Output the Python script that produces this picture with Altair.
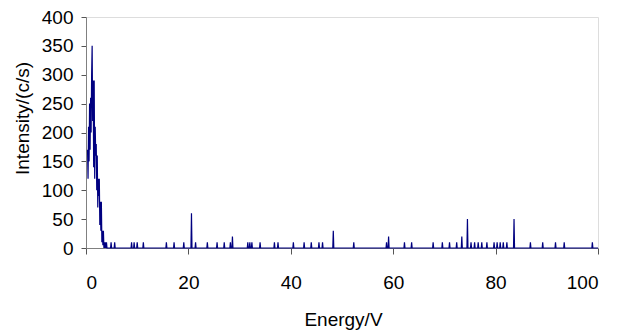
import altair as alt
import pandas as pd

# Dense low-energy region (x step 0.1 starting at 0.3)
dense_start = 0.3
dense_values = [170, 120, 210, 150, 250, 170, 260, 200, 300, 350,
                220, 290, 140, 290, 120, 210, 160, 180, 100, 160,
                70, 120, 90, 120, 40, 80, 30, 80, 10, 30,
                5, 30, 0, 10, 0, 10, 0, 10, 0]

# Isolated spikes (energy, intensity)
spike_x = [4.9, 5.6, 8.9, 9.4, 10.0, 11.2, 15.7, 17.2, 19.1, 20.6, 21.4,
           23.7, 25.6, 27.0, 28.2, 28.6, 31.6, 32.0, 32.4, 34.0, 36.8, 37.5,
           40.5, 42.6, 44.0, 45.5, 46.2, 48.3, 52.3, 58.7, 59.1, 62.2, 63.6,
           67.8, 69.6, 71.0, 72.4, 73.4, 74.5, 75.2, 75.9, 76.6, 77.3, 78.3,
           79.7, 80.3, 80.9, 81.5, 82.2, 83.6, 86.8, 89.2, 91.7, 93.4, 98.9]
spike_y = [10, 10, 10, 10, 10, 10, 10, 10, 10, 60, 10,
           10, 10, 10, 10, 20, 10, 10, 10, 10, 10, 10,
           10, 10, 10, 10, 10, 30, 10, 10, 20, 10, 10,
           10, 10, 10, 10, 20, 50, 10, 10, 10, 10, 10,
           10, 10, 10, 10, 10, 50, 10, 10, 10, 10, 10]

# Build a 0.1-step series from the lists above
n = 1001
vals = [0.0] * n
for i, v in enumerate(dense_values):
    vals[int(round(dense_start * 10)) + i] = v
for sx, sy in zip(spike_x, spike_y):
    vals[int(round(sx * 10))] = sy
energy = [i / 10 for i in range(n)]
start = int(round(dense_start * 10))
df = pd.DataFrame({"Energy": energy[start:], "Intensity": vals[start:]})

FONT = "Liberation Sans"

chart = alt.Chart(df).mark_line(color="#000080", strokeWidth=1.2, interpolate="linear").encode(
    x=alt.X("Energy:Q",
            scale=alt.Scale(domain=[0, 100], nice=False, zero=True),
            axis=alt.Axis(title="Energy/V", values=[0, 20, 40, 60, 80, 100],
                          grid=False, tickSize=6, tickColor="#555555",
                          domainColor="#808080", labelFontSize=19,
                          labelFont=FONT, labelColor="black", labelPadding=19,
                          titleFont=FONT, titleFontSize=19, titleFontWeight="normal",
                          titleColor="black", titleX=257, titleY=77,
                          titleBaseline="alphabetic", titleAlign="center")),
    y=alt.Y("Intensity:Q",
            scale=alt.Scale(domain=[0, 400], nice=False),
            axis=alt.Axis(title="Intensity/(c/s)", values=list(range(0, 401, 50)),
                          grid=False, tickSize=5, tickColor="#555555",
                          domainColor="#808080", labelFontSize=19,
                          labelFont=FONT, labelColor="black", labelPadding=8,
                          titleFont=FONT, titleFontSize=19, titleFontWeight="normal",
                          titleColor="black", titleX=-64, titleY=101,
                          titleAngle=-90, titleBaseline="middle", titleAlign="center")),
).properties(
    width=512, height=231,
    autosize=alt.AutoSizeParams(type="none"),
    padding={"left": 78, "top": 9, "right": 20, "bottom": 83},
).configure_view(stroke=None).configure(background="white")

chart.save("out.html", embed_options={"renderer": "svg", "actions": False})
